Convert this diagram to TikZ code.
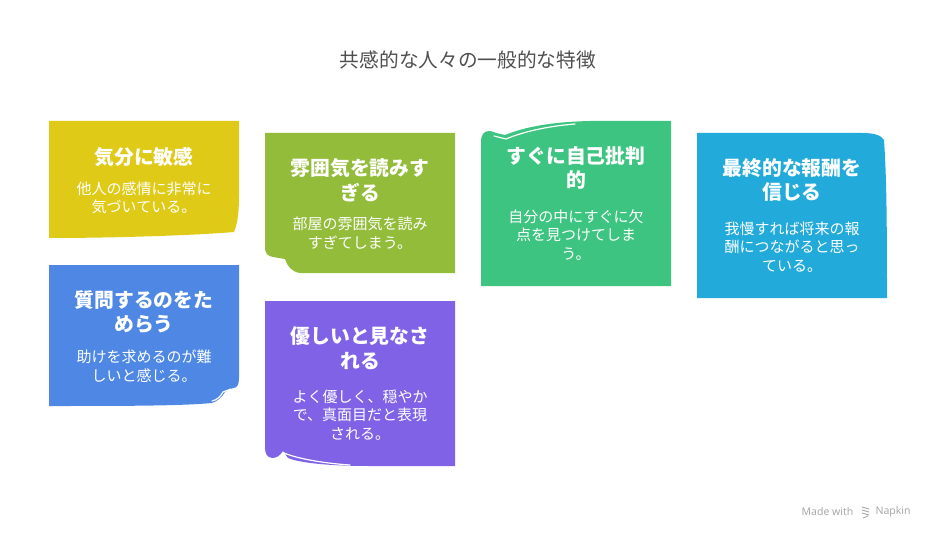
\documentclass[tikz,border=0pt]{standalone}
\usepackage{fontspec}
\setmainfont{Noto Sans CJK JP}
\newfontfamily\latinfont{Noto Sans}
\definecolor{cardyellow}{HTML}{DFCA17}
\definecolor{cardlime}{HTML}{93BC3A}
\definecolor{cardgreen}{HTML}{3DC480}
\definecolor{cardcyan}{HTML}{21AADA}
\definecolor{cardblue}{HTML}{4E88E4}
\definecolor{cardpurple}{HTML}{7F62E6}
\definecolor{titlegray}{HTML}{4F4F4F}
\definecolor{markgray}{HTML}{A8A8A8}
\begin{document}
\begin{tikzpicture}[x=1pt,y=-1pt,
    head/.style={text=white,align=center,font=\bfseries\fontsize{19.8}{24.5}\selectfont},
    body/.style={text=white,align=center,font=\fontsize{15}{18.5}\selectfont},
    crease/.style={white,line width=1.2pt,line cap=round}]
    \useasboundingbox (0,0) rectangle (936,540);
    \node[text=titlegray,font=\fontsize{19.7}{22}\selectfont] (title) at (468,60) {共感的な人々の一般的な特徴};
    % cards
    \fill[cardyellow] (49,121) -- (239,121) -- (239,195) .. controls (239,215) and (237,225) .. (234,232)
        .. controls (200,235) and (120,238) .. (49,238) -- cycle;
    \fill[cardlime] (265,133) -- (455,133) -- (455,273) -- (300,273) .. controls (292,272) and (287,266) .. (285,259)
        -- (273,257) .. controls (268,256) and (265,254) .. (265,247) -- cycle;
    \draw[crease] (274,259) -- (282,262) .. controls (284,266) and (286,270) .. (290,272);
    \fill[cardgreen] (481,286) -- (481,141) .. controls (481,135) and (484,131) .. (489,131)
        .. controls (492,131) and (494,132) .. (496,133) -- (505,135) .. controls (525,127) and (550,122) .. (590,121)
        -- (671,121) -- (671,286) -- cycle;
    \draw[crease] (494,136) -- (506,139) .. controls (525,131) and (550,126) .. (575,124);
    \fill[cardcyan] (697,133) -- (862,133) .. controls (874,133) and (881,135) .. (884,140)
        .. controls (886,170) and (887,200) .. (887,298) -- (697,298) -- cycle;
    \fill[cardblue] (49,265) -- (239,265) -- (239,378) .. controls (239,385) and (237,388) .. (233,388)
        -- (225,392) .. controls (222,397) and (218,401) .. (212,403) .. controls (180,406) and (120,406) .. (49,406) -- cycle;
    \draw[crease] (231,389) -- (223,392) .. controls (220,397) and (217,400) .. (212,401);
    \fill[cardpurple] (265,301) -- (455,301) -- (455,466) -- (370,466) .. controls (330,466) and (300,463) .. (288,458)
        -- (283,451) .. controls (280,456) and (276,458) .. (272,458) .. controls (267,457) and (265,454) .. (265,447) -- cycle;
    \draw[crease] (284,453) .. controls (296,458) and (320,463) .. (350,465);
    % texts
    \node[head] (h1) at (144,157) {気分に敏感};
    \node[body] (b1) at (144,198) {他人の感情に非常に\\気づいている。};
    \node[head] (h2) at (360,180) {雰囲気を読みす\\ぎる};
    \node[body] (b2) at (360,233) {部屋の雰囲気を読み\\すぎてしまう。};
    \node[head] (h3) at (576,168) {すぐに自己批判\\的};
    \node[body] (b3) at (576,235) {自分の中にすぐに欠\\点を見つけてしま\\う。};
    \node[head] (h4) at (792,180) {最終的な報酬を\\信じる};
    \node[body] (b4) at (792,247) {我慢すれば将来の報\\酬につながると思っ\\ている。};
    \node[head] (h5) at (144,312) {質問するのをた\\めらう};
    \node[body] (b5) at (144,366) {助けを求めるのが難\\しいと感じる。};
    \node[head] (h6) at (360,348) {優しいと見なさ\\れる};
    \node[body] (b6) at (360,415) {よく優しく、穏やか\\で、真面目だと表現\\される。};
    % brand mark
    \node[text=markgray,font=\latinfont\fontsize{10.5}{12}\selectfont,anchor=east] (made) at (857,512) {Made with};
    \node[text=markgray,font=\latinfont\fontsize{10.5}{12}\selectfont,anchor=west] (napkin) at (872,512) {Napkin};
    \draw[markgray,line width=0.9pt] (862,507) -- (869,509) (862,510) -- (869,512) (862,513) -- (869,515) (863,518) -- (868,516);
\end{tikzpicture}
\end{document}
